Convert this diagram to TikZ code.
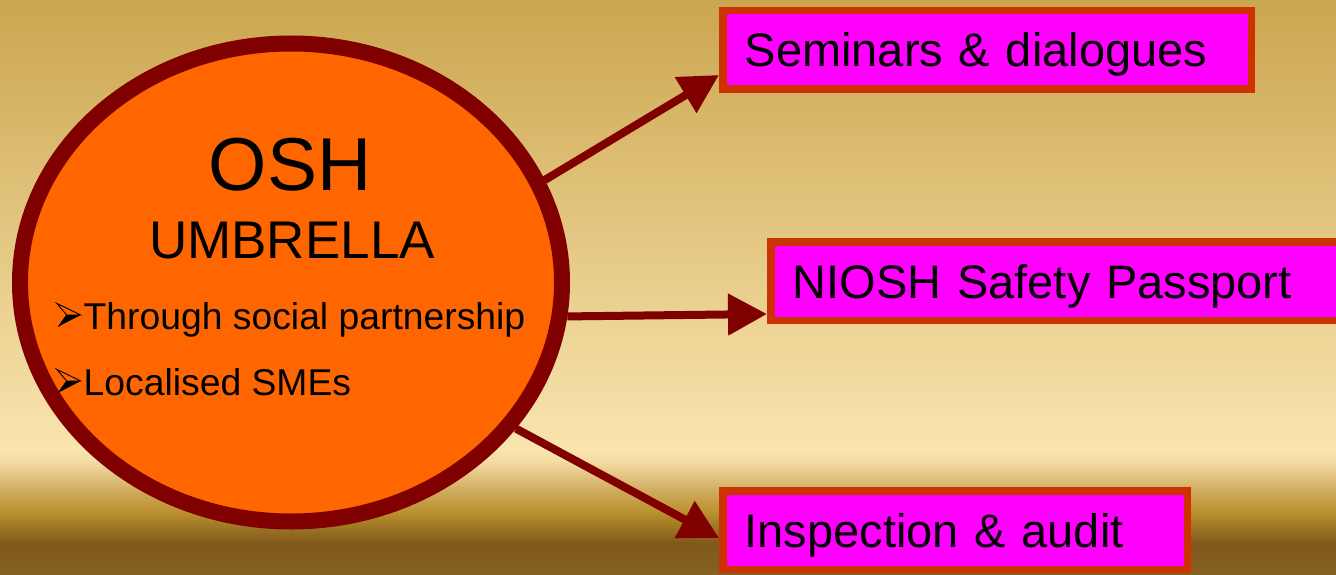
\documentclass[tikz,border=0pt]{standalone}
\usepackage{fontspec}
\setmainfont{Liberation Sans}
\usetikzlibrary{shapes.geometric,arrows.meta}
\definecolor{bgA}{HTML}{CBA650}
\definecolor{bgB}{HTML}{FAE5B0}
\definecolor{bgC}{HTML}{F3DAA0}
\definecolor{bgD}{HTML}{CFAB5E}
\definecolor{bgE}{HTML}{B98E2D}
\definecolor{bgF}{HTML}{7E581B}
\definecolor{bgG}{HTML}{866221}
\definecolor{rim}{HTML}{800000}
\definecolor{sun}{HTML}{FF6600}
\definecolor{boxedge}{HTML}{CC3300}
\definecolor{boxfill}{HTML}{FF00FF}
\tikzset{
  boxnode/.style={draw=boxedge, fill=boxfill, line width=7.5pt, rectangle,
    anchor=west, minimum height=78.5pt, inner xsep=22pt, inner ysep=0pt,
    align=left, text height=34pt, text depth=0pt,
    font=\fontsize{47}{56}\selectfont},
  link/.style={draw=rim, line width=8pt, -{Triangle[length=39pt,width=40pt]}},
  plain/.style={inner sep=0pt, text=black},
  bulletmark/.pic={
    \draw[black, line width=0.9pt, line join=miter, fill=sun]
      (0,0) -- (24,11.7) -- (10,11.7) -- cycle;
    \fill[black] (10,11.7) -- (24,11.7) -- (1.6,23.4) -- cycle;
    \draw[black, line width=0.9pt] (10,11.7) -- (1.6,23.4);
  },
}
\begin{document}
\begin{tikzpicture}[x=1pt,y=-1pt]
\useasboundingbox (0,0) rectangle (1336,575);
% background
\shade[top color=bgA, bottom color=bgB] (0,0) rectangle (1336,451);
\shade[top color=bgB, bottom color=bgC] (0,450) rectangle (1336,463);
\shade[top color=bgC, bottom color=bgD] (0,462) rectangle (1336,491);
\shade[top color=bgD, bottom color=bgE] (0,490) rectangle (1336,514);
\shade[top color=bgE, bottom color=bgF] (0,513) rectangle (1336,544);
\shade[top color=bgF, bottom color=bgG] (0,543) rectangle (1336,575);
% central ellipse
\node[ellipse, draw=rim, fill=sun, line width=16pt, inner sep=0pt,
  minimum width=542pt, minimum height=478pt] (osh) at (291,282.5) {};
\node[plain, anchor=base, font=\fontsize{75}{80}\selectfont] (t1) at (290,190) {OSH};
\node[plain, anchor=base, font=\fontsize{53}{60}\selectfont] (t2) at (292,258) {UMBRELLA};
\pic at (56.7,303.3) {bulletmark};
\node[plain, anchor=base west, font=\fontsize{37.3}{40}\selectfont] (t3) at (83.5,329) {Through social partnership};
\pic at (56.7,369.3) {bulletmark};
\node[plain, anchor=base west, font=\fontsize{37.3}{40}\selectfont] (t4) at (83.5,395) {Localised SMEs};
% boxes
\node[boxnode, text width=484.5pt] (b1) at (719,50) {Seminars \& dialogues};
\node[boxnode, text width=526.5pt] (b2) at (767,281) {NIOSH Safety Passport};
\node[boxnode, text width=420.5pt] (b3) at (719,530) {Inspection \& audit};
% connectors
\coordinate (e1) at ([yshift=18pt]b1.south west);
\coordinate (e2) at ([yshift=10pt]b2.south west);
\coordinate (e3) at ([yshift=-8pt]b3.west);
\draw[link] (osh.22) -- (e1);
\draw[link] (osh.-7) -- (e2);
\draw[link] (osh.-33) -- (e3);
\end{tikzpicture}
\end{document}
